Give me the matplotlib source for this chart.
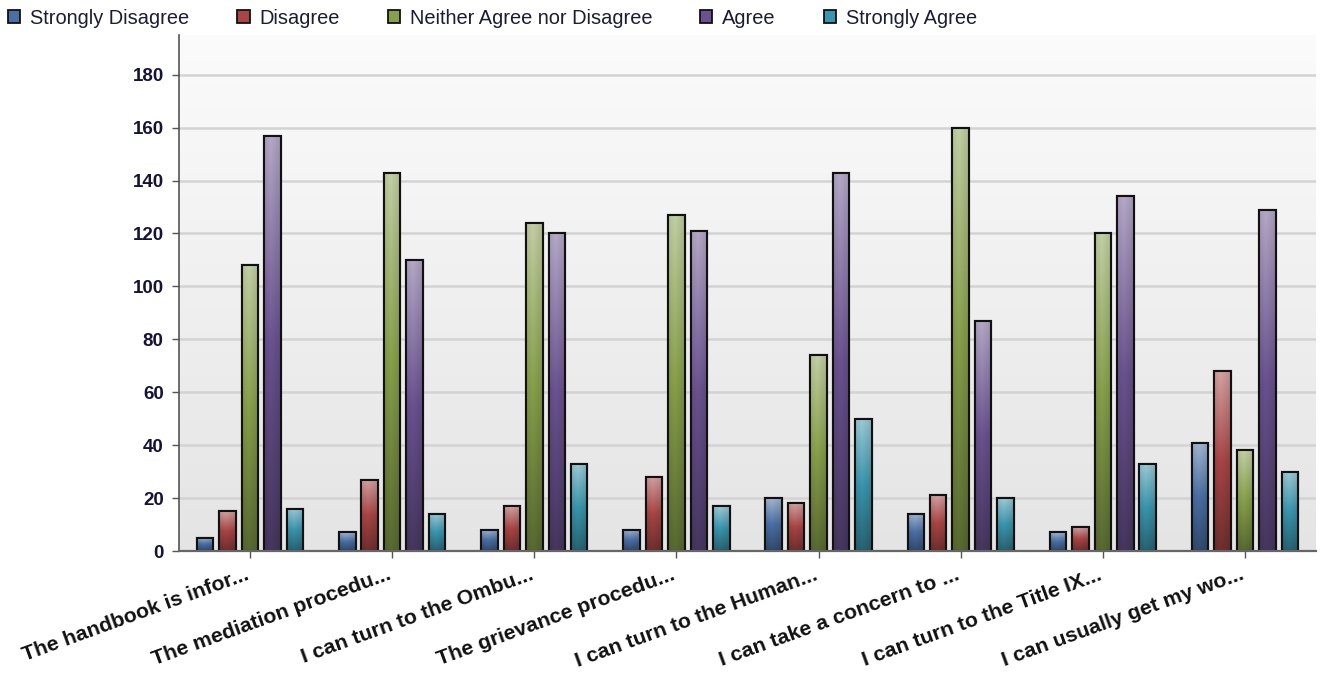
import numpy as np
import matplotlib
matplotlib.use("Agg")
import matplotlib.pyplot as plt
from matplotlib.patches import Patch, Rectangle
from matplotlib.colors import to_rgb
from matplotlib.transforms import ScaledTranslation

plt.rcParams['font.family'] = ['Liberation Sans', 'DejaVu Sans']

# Survey statements (truncated as shown on the axis)
statements = [
    "The handbook is infor...",
    "The mediation procedu...",
    "I can turn to the Ombu...",
    "The grievance procedu...",
    "I can turn to the Human...",
    "I can take a concern to ...",
    "I can turn to the Title IX...",
    "I can usually get my wo...",
]

# Response counts per statement
strongly_disagree = [5, 7, 8, 8, 20, 14, 7, 41]
disagree = [15, 27, 17, 28, 18, 21, 9, 68]
neither = [108, 143, 124, 127, 74, 160, 120, 38]
agree = [157, 110, 120, 121, 143, 87, 134, 129]
strongly_agree = [16, 14, 33, 17, 50, 20, 33, 30]

series_names = ["Strongly Disagree", "Disagree", "Neither Agree nor Disagree",
                "Agree", "Strongly Agree"]
series_values = [strongly_disagree, disagree, neither, agree, strongly_agree]
series_colors = ["#4a6fa5", "#a94545", "#87a04a", "#6a5290", "#3a96ae"]

y_ticks = [0, 20, 40, 60, 80, 100, 120, 140, 160, 180]

W, H = 1325, 679
fig = plt.figure(figsize=(W / 100, H / 100), dpi=100)
fig.patch.set_facecolor("white")
ax = fig.add_axes([179 / W, 1 - 551 / H, (1316 - 179) / W, (551 - 35) / H])

n_groups = len(statements)
xlim = (-0.5, n_groups - 0.5)
ylim = (0, 195)
ax.set_xlim(*xlim)
ax.set_ylim(*ylim)

# Plot-area background: soft vertical gradient from near white to light gray
bg = np.linspace(0.895, 0.985, 256).reshape(-1, 1)
ax.imshow(np.dstack([bg, bg, bg]), extent=[xlim[0], xlim[1], ylim[0], ylim[1]],
          origin="lower", aspect="auto", zorder=0, interpolation="bicubic")

for yv in y_ticks[1:]:
    ax.axhline(yv, color="#d3d3d3", lw=1.8, zorder=1)


def bar_gradient(color):
    base = np.array(to_rgb(color))
    t = np.linspace(0, 1, 128)[:, None]
    dark = base * 0.66
    light = base + (1 - base) * 0.5
    lower = dark + (base - dark) * np.clip(t / 0.5, 0, 1)
    upper = base + (light - base) * np.clip((t - 0.5) / 0.5, 0, 1)
    col = np.where(t < 0.5, lower, upper)
    # slight horizontal shading across the bar
    s = np.linspace(0, 1, 24)[None, :]
    shade = 1.0 - 0.10 * np.abs(s - 0.4) * 2
    img = col[:, None, :] * shade[..., None]
    return np.clip(img, 0, 1)


step = 0.158
width = 0.116
x = np.arange(n_groups)
for i, (vals, color) in enumerate(zip(series_values, series_colors)):
    offs = (i - 2) * step
    bars = ax.bar(x + offs, vals, width=width, color=color, edgecolor="#111111",
                  linewidth=1.5, zorder=3)
    grad = bar_gradient(color)
    for rect in bars:
        x0, w, h = rect.get_x(), rect.get_width(), rect.get_height()
        im = ax.imshow(grad, extent=[x0, x0 + w, 0, h], origin="lower",
                       aspect="auto", zorder=3.5, interpolation="bilinear")
        im.set_clip_path(rect)
        edge = Rectangle((x0, 0), w, h, fill=False, edgecolor="#111111",
                         linewidth=1.5, zorder=4)
        ax.add_patch(edge)

# Axes styling
for side in ["top", "right"]:
    ax.spines[side].set_visible(False)
ax.spines["left"].set_color("#555555")
ax.spines["bottom"].set_color("#666666")
ax.spines["left"].set_linewidth(1.2)
ax.spines["bottom"].set_linewidth(1.6)
ax.spines["left"].set_zorder(5)
ax.spines["bottom"].set_zorder(5)

ax.set_yticks(y_ticks)
ax.set_yticklabels([str(v) for v in y_ticks], fontsize=13.5, fontweight="bold",
                   color="#14143a")
ax.tick_params(axis="y", length=5, width=1, color="#555555", pad=6)

ax.set_xticks(x)
ax.set_xticklabels(statements, rotation=20, ha="right", rotation_mode="anchor",
                   fontsize=15.3, fontweight="bold", color="#111111")
ax.tick_params(axis="x", length=5, width=1, color="#555555", pad=5)
shift = ScaledTranslation(-5 / 100, 0, fig.dpi_scale_trans)
for lbl in ax.get_xticklabels():
    lbl.set_transform(lbl.get_transform() + shift)

# Legend across the top
handles = [Patch(facecolor=c, edgecolor="#111111", linewidth=1.3) for c in series_colors]
fig.legend(handles, series_names, loc="center left",
           bbox_to_anchor=(8 / W, 1 - 18 / H), ncol=5, frameon=False,
           fontsize=14.4, handlelength=0.62, handleheight=0.62, handletextpad=0.48,
           columnspacing=2.4, borderpad=0, borderaxespad=0, labelcolor="#1c1c34")

fig.savefig("out.png", dpi=100, facecolor="white")
